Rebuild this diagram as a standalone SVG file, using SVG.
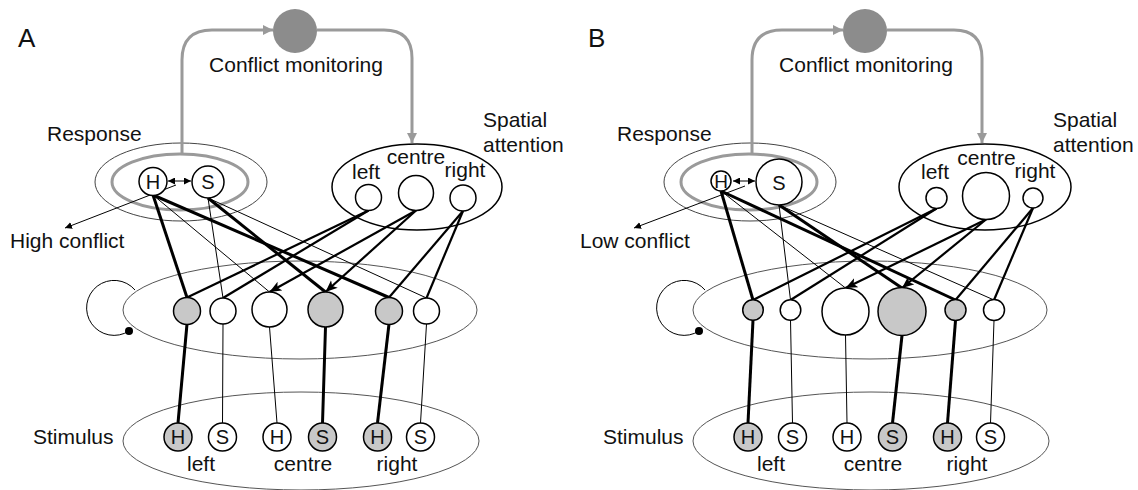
<svg xmlns="http://www.w3.org/2000/svg" width="1138" height="490" viewBox="0 0 1138 490">
<style>
text{font-family:"Liberation Sans",Arial,sans-serif;font-size:21px;fill:#111}
.lbl{text-anchor:middle}
.nt{text-anchor:middle;font-size:20px}
.node{fill:#fff;stroke:#000;stroke-width:1.5}
.on{fill:#c8c8c8}
.cm{fill:#8c8c8c}
.gp{fill:none;stroke:#9a9a9a;stroke-width:3}
.thick{stroke:#000;stroke-width:3}
.med{stroke:#000;stroke-width:2.2}
.thin{stroke:#000;stroke-width:1}
.ell{fill:none;stroke:#555;stroke-width:1}
.ellb{fill:none;stroke:#000;stroke-width:1.5}
.ellg{fill:none;stroke:#9a9a9a;stroke-width:3}
.ello{fill:none;stroke:#444;stroke-width:1}
</style>
<defs>
<marker id="ga" markerUnits="userSpaceOnUse" markerWidth="12" markerHeight="12" refX="10" refY="5" orient="auto"><path d="M0,0 L10,5 L0,10 Z" fill="#9a9a9a"/></marker>
<marker id="ba" markerUnits="userSpaceOnUse" markerWidth="14" markerHeight="12" refX="12" refY="5" orient="auto"><path d="M0,0 L12,5 L0,10 L3,5 Z" fill="#000"/></marker>
<marker id="sa" markerUnits="userSpaceOnUse" markerWidth="8" markerHeight="8" refX="7" refY="3.5" orient="auto"><path d="M0,0 L7,3.5 L0,7 Z" fill="#000"/></marker>
<marker id="ss" markerUnits="userSpaceOnUse" markerWidth="8" markerHeight="8" refX="0" refY="3.5" orient="auto"><path d="M7,0 L0,3.5 L7,7 Z" fill="#000"/></marker>
</defs>

<!-- Panel A -->
<text x="18" y="47" style="font-size:26px">A</text>
<g id="A-layers">
<ellipse class="ell" cx="300" cy="310" rx="177" ry="49"/>
<ellipse class="ell" cx="301" cy="441" rx="178" ry="49"/>
<ellipse class="ello" cx="181" cy="182" rx="86" ry="39"/>
<ellipse class="ellg" cx="180" cy="182" rx="68" ry="28"/>
<ellipse class="ellb" cx="417" cy="187" rx="85" ry="43"/>
</g>
<g id="A-connectors">
<path class="gp" d="M182,154 V60 Q182,30 212,30 H273" marker-end="url(#ga)"/>
<path class="gp" d="M317,30 H384 Q412,30 412,58 V143" marker-end="url(#ga)"/>
<line class="thin" x1="176" y1="185" x2="65" y2="228" marker-end="url(#sa)"/>
<line class="thin" x1="168" y1="181" x2="191" y2="181" marker-start="url(#ss)" marker-end="url(#sa)"/>
<path d="M135,290 A27.5,27.5 0 1 0 129,331" fill="none" stroke="#000" stroke-width="1"/>
<circle cx="129" cy="331" r="4" fill="#000"/>
<line class="thick" x1="153" y1="195" x2="187" y2="297.5"/>
<line class="thin" x1="153" y1="195" x2="269.5" y2="292"/>
<line class="thick" x1="153" y1="195" x2="389" y2="297.5"/>
<line class="thin" x1="208" y1="198" x2="223" y2="298"/>
<line class="thick" x1="208" y1="198" x2="325.5" y2="292"/>
<line class="thin" x1="208" y1="198" x2="426.5" y2="298"/>
<line class="med" x1="368.5" y1="210.5" x2="187" y2="297.5"/>
<line class="med" x1="368.5" y1="210.5" x2="223" y2="298"/>
<line class="med" x1="416" y1="210.5" x2="269.5" y2="292" marker-end="url(#ba)"/>
<line class="med" x1="416" y1="210.5" x2="325.5" y2="292" marker-end="url(#ba)"/>
<line class="med" x1="463" y1="211" x2="389" y2="297.5"/>
<line class="med" x1="463" y1="211" x2="426.5" y2="298"/>
<line class="thick" x1="187" y1="324" x2="178" y2="423"/>
<line class="thin" x1="223" y1="324" x2="222.5" y2="423"/>
<line class="thin" x1="269.5" y1="327" x2="277" y2="423"/>
<line class="thick" x1="325.5" y1="327" x2="322.5" y2="423"/>
<line class="thick" x1="389" y1="324" x2="377.5" y2="423"/>
<line class="thin" x1="426.5" y1="324" x2="420.5" y2="423"/>
</g>
<g id="A-conflict"><circle class="cm" cx="295" cy="31" r="22"/><text class="lbl" x="296" y="72">Conflict monitoring</text></g>
<g id="A-response-label"><text x="47" y="141">Response</text></g>
<g id="A-attention-label"><text x="483" y="127">Spatial</text><text x="483" y="152">attention</text></g>
<g id="A-rH"><circle class="node" cx="153" cy="181.5" r="14"/><text class="nt" x="153" y="188.5">H</text></g>
<g id="A-rS"><circle class="node" cx="208" cy="182" r="16"/><text class="nt" x="208" y="189">S</text></g>
<g id="A-aL"><circle class="node" cx="368.5" cy="197.5" r="13"/><text class="lbl" x="366" y="179">left</text></g>
<g id="A-aC"><circle class="node" cx="416" cy="193" r="17.5"/><text class="lbl" x="416" y="164">centre</text></g>
<g id="A-aR"><circle class="node" cx="463" cy="198" r="13"/><text class="lbl" x="465" y="177">right</text></g>
<g id="A-high"><text x="10" y="248">High conflict</text></g>
<g id="A-m1"><circle class="node on" cx="187" cy="311" r="13.5"/></g>
<g id="A-m2"><circle class="node" cx="223" cy="311" r="13"/></g>
<g id="A-m3"><circle class="node" cx="269.5" cy="309.5" r="17.5"/></g>
<g id="A-m4"><circle class="node on" cx="325.5" cy="309.5" r="17.5"/></g>
<g id="A-m5"><circle class="node on" cx="389" cy="311" r="13.5"/></g>
<g id="A-m6"><circle class="node" cx="426.5" cy="311" r="13"/></g>
<g id="A-stim-label"><text x="33" y="444">Stimulus</text></g>
<g id="A-s1"><circle class="node on" cx="178" cy="437" r="14"/><text class="nt" x="178" y="444">H</text></g>
<g id="A-s2"><circle class="node" cx="222.5" cy="437" r="14"/><text class="nt" x="222.5" y="444">S</text></g>
<g id="A-s3"><circle class="node" cx="277" cy="437" r="14"/><text class="nt" x="277" y="444">H</text></g>
<g id="A-s4"><circle class="node on" cx="322.5" cy="437" r="14"/><text class="nt" x="322.5" y="444">S</text></g>
<g id="A-s5"><circle class="node on" cx="377.5" cy="437" r="14"/><text class="nt" x="377.5" y="444">H</text></g>
<g id="A-s6"><circle class="node" cx="420.5" cy="437" r="14"/><text class="nt" x="420.5" y="444">S</text></g>
<g id="A-stim-pos"><text class="lbl" x="201" y="471">left</text><text class="lbl" x="303" y="471">centre</text><text class="lbl" x="397" y="471">right</text></g>

<!-- Panel B -->
<text x="588" y="47" style="font-size:26px">B</text>
<g id="B-layers">
<ellipse class="ell" cx="870" cy="310" rx="177" ry="49"/>
<ellipse class="ell" cx="871" cy="441" rx="178" ry="49"/>
<ellipse class="ello" cx="750" cy="182" rx="86" ry="39"/>
<ellipse class="ellg" cx="749" cy="182" rx="68" ry="28"/>
<ellipse class="ellb" cx="985" cy="187" rx="86" ry="43"/>
</g>
<g id="B-connectors">
<path class="gp" d="M752,154 V60 Q752,30 782,30 H843" marker-end="url(#ga)"/>
<path class="gp" d="M887,30 H954 Q982,30 982,58 V143" marker-end="url(#ga)"/>
<line class="thin" x1="745" y1="186" x2="634" y2="228" marker-end="url(#sa)"/>
<line class="thin" x1="733" y1="181" x2="755" y2="181" marker-start="url(#ss)" marker-end="url(#sa)"/>
<path d="M705,290 A27.5,27.5 0 1 0 699,331" fill="none" stroke="#000" stroke-width="1"/>
<circle cx="699" cy="331" r="4" fill="#000"/>
<line class="thick" x1="721" y1="191" x2="753" y2="300"/>
<line class="thin" x1="721" y1="191" x2="845.5" y2="288"/>
<line class="thick" x1="721" y1="191" x2="955.5" y2="300"/>
<line class="thin" x1="779" y1="205" x2="790.5" y2="300"/>
<line class="thick" x1="779" y1="205" x2="902" y2="288"/>
<line class="thin" x1="779" y1="205" x2="994" y2="300"/>
<line class="med" x1="936.5" y1="208.5" x2="753" y2="300"/>
<line class="med" x1="936.5" y1="208.5" x2="790.5" y2="300"/>
<line class="med" x1="986" y1="219.5" x2="845.5" y2="288" marker-end="url(#ba)"/>
<line class="med" x1="986" y1="219.5" x2="902" y2="288" marker-end="url(#ba)"/>
<line class="med" x1="1033" y1="208" x2="955.5" y2="300"/>
<line class="med" x1="1033" y1="208" x2="994" y2="300"/>
<line class="thick" x1="753" y1="320" x2="748" y2="423"/>
<line class="thin" x1="790.5" y1="320" x2="792.5" y2="423"/>
<line class="thin" x1="845.5" y1="335" x2="847" y2="423"/>
<line class="thick" x1="902" y1="335.5" x2="892.5" y2="423"/>
<line class="thick" x1="955.5" y1="320.5" x2="947.5" y2="423"/>
<line class="thin" x1="994" y1="320.5" x2="990.5" y2="423"/>
</g>
<g id="B-conflict"><circle class="cm" cx="865" cy="31" r="22"/><text class="lbl" x="866" y="72">Conflict monitoring</text></g>
<g id="B-response-label"><text x="617" y="141">Response</text></g>
<g id="B-attention-label"><text x="1053" y="127">Spatial</text><text x="1053" y="152">attention</text></g>
<g id="B-rH"><circle class="node" cx="721" cy="181" r="10"/><text class="nt" x="721" y="188" style="font-size:19px">H</text></g>
<g id="B-rS"><circle class="node" cx="779" cy="182" r="23"/><text class="nt" x="779" y="189.5">S</text></g>
<g id="B-aL"><circle class="node" cx="936.5" cy="198" r="10.5"/><text class="lbl" x="935" y="179">left</text></g>
<g id="B-aC"><circle class="node" cx="986" cy="196" r="23.5"/><text class="lbl" x="986.5" y="165">centre</text></g>
<g id="B-aR"><circle class="node" cx="1033" cy="198" r="10"/><text class="lbl" x="1035" y="178">right</text></g>
<g id="B-low"><text x="580" y="248">Low conflict</text></g>
<g id="B-m1"><circle class="node on" cx="753" cy="310" r="10.3"/></g>
<g id="B-m2"><circle class="node" cx="790.5" cy="310" r="10.3"/></g>
<g id="B-m3"><circle class="node" cx="845.5" cy="311.5" r="23.5"/></g>
<g id="B-m4"><circle class="node on" cx="902" cy="311.5" r="24"/></g>
<g id="B-m5"><circle class="node on" cx="955.5" cy="310" r="10.5"/></g>
<g id="B-m6"><circle class="node" cx="994" cy="310" r="10.5"/></g>
<g id="B-stim-label"><text x="603" y="444">Stimulus</text></g>
<g id="B-s1"><circle class="node on" cx="748" cy="437" r="14"/><text class="nt" x="748" y="444">H</text></g>
<g id="B-s2"><circle class="node" cx="792.5" cy="437" r="14"/><text class="nt" x="792.5" y="444">S</text></g>
<g id="B-s3"><circle class="node" cx="847" cy="437" r="14"/><text class="nt" x="847" y="444">H</text></g>
<g id="B-s4"><circle class="node on" cx="892.5" cy="437" r="14"/><text class="nt" x="892.5" y="444">S</text></g>
<g id="B-s5"><circle class="node on" cx="947.5" cy="437" r="14"/><text class="nt" x="947.5" y="444">H</text></g>
<g id="B-s6"><circle class="node" cx="990.5" cy="437" r="14"/><text class="nt" x="990.5" y="444">S</text></g>
<g id="B-stim-pos"><text class="lbl" x="771" y="471">left</text><text class="lbl" x="873" y="471">centre</text><text class="lbl" x="967" y="471">right</text></g>
</svg>
